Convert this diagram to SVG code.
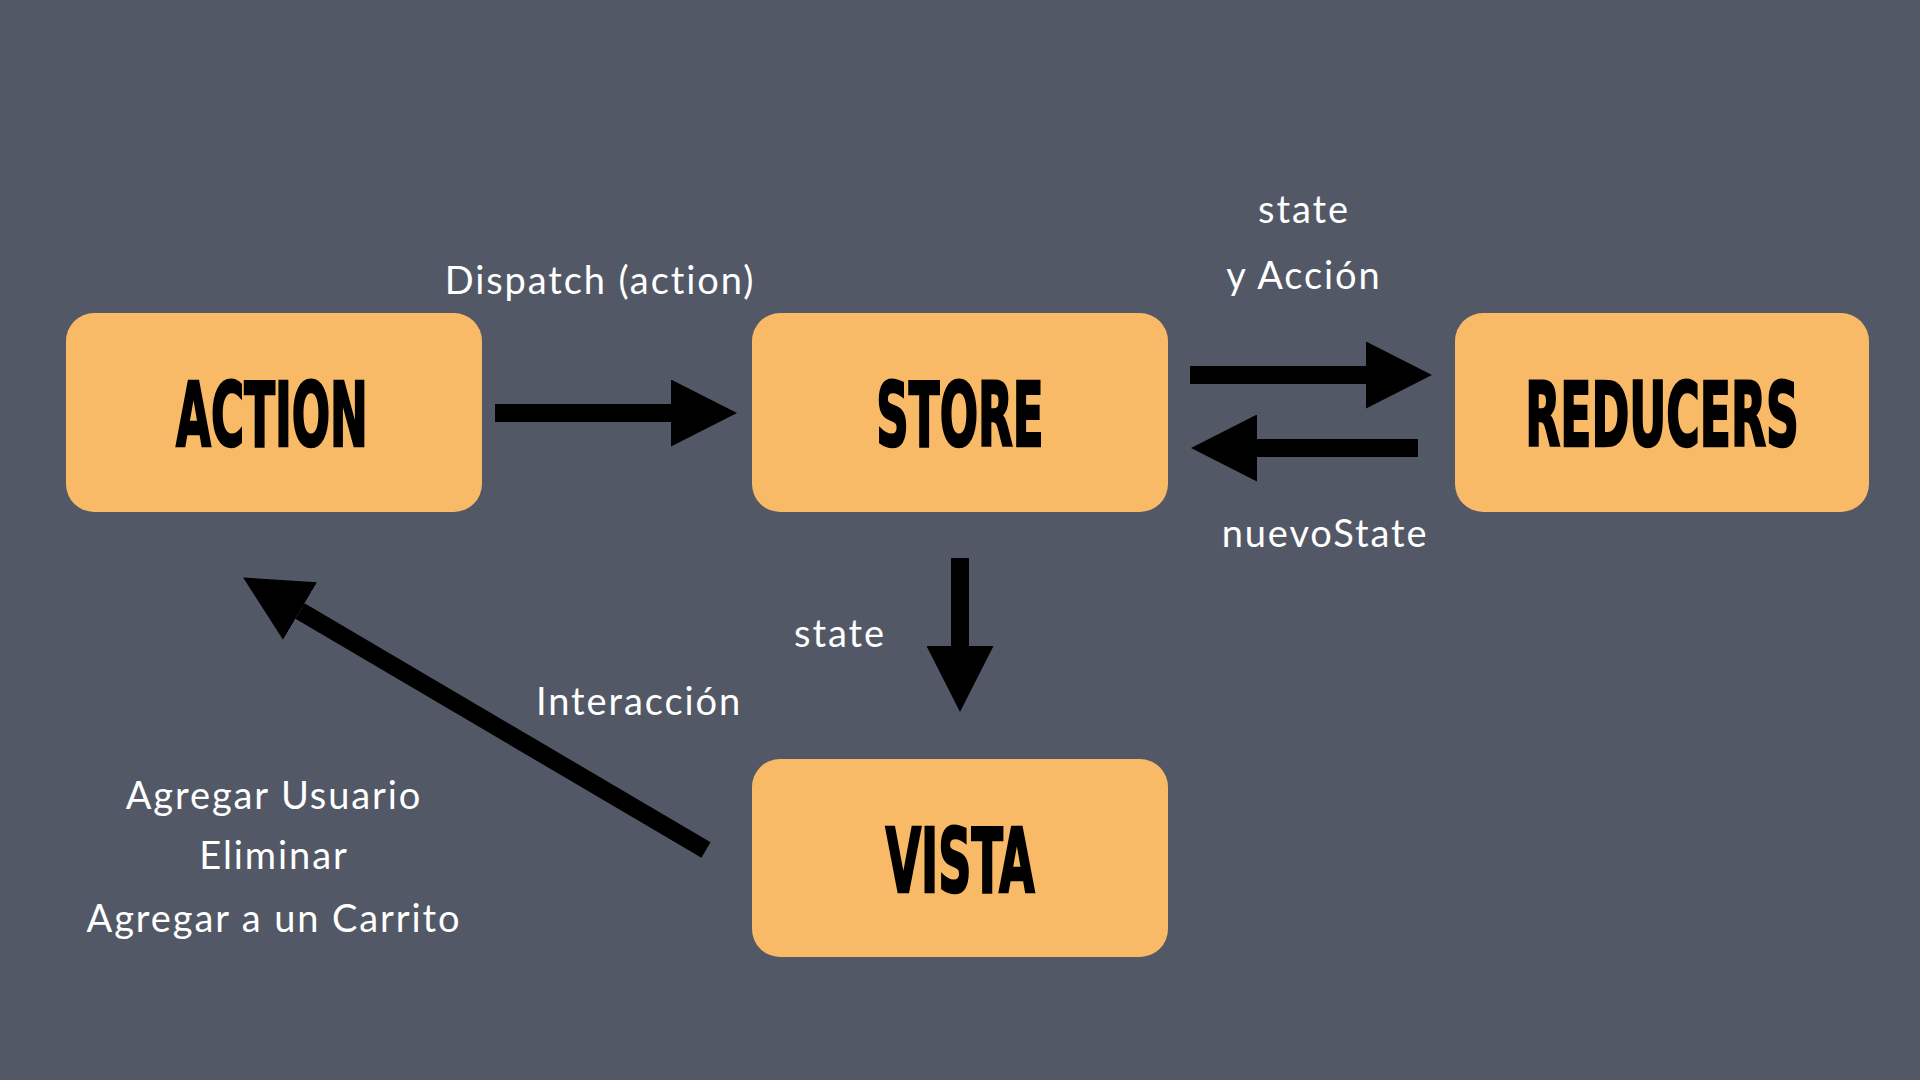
<svg xmlns="http://www.w3.org/2000/svg" width="1920" height="1080" viewBox="0 0 1920 1080">
<style>
.bg{fill:#525865}
.box{fill:#F8BA67}
.title{font-family:"Liberation Sans Narrow","DejaVu Sans Condensed","Liberation Sans",sans-serif;font-weight:bold;font-size:89px;fill:#000;text-anchor:middle;stroke:#000;stroke-width:2.5px}
.lbl{font-family:Lato,"Noto Sans","Liberation Sans",sans-serif;font-size:38px;letter-spacing:1.9px;fill:#fff;text-anchor:middle}
.conn{stroke:#000;stroke-width:18;fill:none;marker-end:url(#head)}
</style>
<defs>
<marker id="head" viewBox="0 0 66 67" markerUnits="userSpaceOnUse" markerWidth="66" markerHeight="67" refX="0" refY="33.5" orient="auto">
<path d="M0,0 L66,33.5 L0,67 Z" fill="#000"/>
</marker>
</defs>
<rect class="bg" x="0" y="0" width="1920" height="1080"/>
<g id="connectors">
<line class="conn" x1="495" y1="413" x2="671" y2="413"/>
<line class="conn" x1="1190" y1="375" x2="1366" y2="375"/>
<line class="conn" x1="1418" y1="448" x2="1257" y2="448"/>
<line class="conn" x1="960" y1="558" x2="960" y2="646"/>
<line class="conn" x1="706" y1="850" x2="300" y2="611"/>
</g>
<g id="labels">
<text class="lbl" x="600" y="294">Dispatch (action)</text>
<text class="lbl" x="1304" y="223">state</text>
<text class="lbl" x="1304" y="289">y Acción</text>
<text class="lbl" x="1325" y="547">nuevoState</text>
<text class="lbl" x="840" y="647">state</text>
<text class="lbl" x="639" y="715">Interacción</text>
<text class="lbl" x="274" y="809">Agregar Usuario</text>
<text class="lbl" x="274" y="869">Eliminar</text>
<text class="lbl" x="274" y="932">Agregar a un Carrito</text>
</g>
<g id="node-action">
<rect class="box" x="66" y="313" width="416" height="199" rx="28"/>
<text class="title" transform="translate(272,446) scale(0.7,1)" x="0" y="0" textLength="274" lengthAdjust="spacingAndGlyphs">ACTION</text>
</g>
<g id="node-store">
<rect class="box" x="752" y="313" width="416" height="199" rx="28"/>
<text class="title" transform="translate(960,446) scale(0.7,1)" x="0" y="0" textLength="239" lengthAdjust="spacingAndGlyphs">STORE</text>
</g>
<g id="node-reducers">
<rect class="box" x="1455" y="313" width="414" height="199" rx="28"/>
<text class="title" transform="translate(1662,446) scale(0.7,1)" x="0" y="0" textLength="391" lengthAdjust="spacingAndGlyphs">REDUCERS</text>
</g>
<g id="node-vista">
<rect class="box" x="752" y="759" width="416" height="198" rx="28"/>
<text class="title" transform="translate(960,892) scale(0.7,1)" x="0" y="0" textLength="213" lengthAdjust="spacingAndGlyphs">VISTA</text>
</g>
</svg>
